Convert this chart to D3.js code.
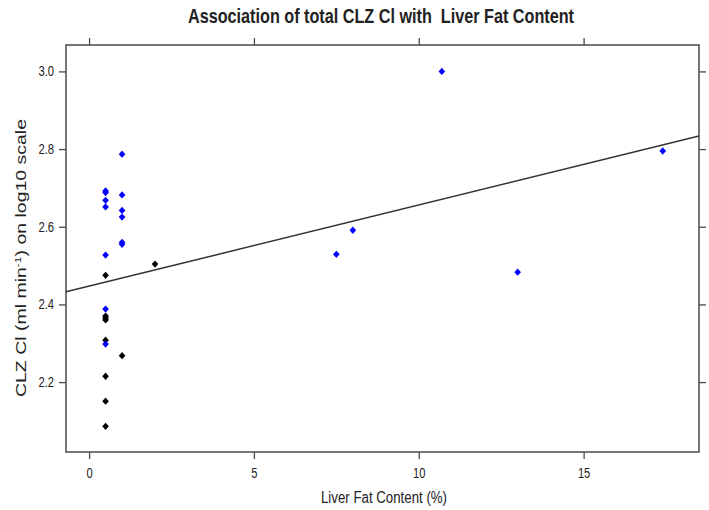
<!DOCTYPE html>
<html>
<head>
<meta charset="utf-8">
<script src="https://cdn.jsdelivr.net/npm/d3@7"></script>
<style>
  html, body { margin: 0; padding: 0; background: #fff; }
  svg { display: block; }
  text { font-family: "Liberation Sans", Arial, sans-serif; fill: #222; white-space: pre; }
</style>
</head>
<body>
<svg id="chart" width="709" height="510"></svg>
<script>
// ---- data ----
const blueX = [0.5, 0.5, 0.5, 0.5, 0.5, 0.5, 0.5, 1, 1, 1, 1, 1, 1, 7.5, 8, 10.7, 13, 17.4];
const blueY = [2.692, 2.688, 2.668, 2.651, 2.527, 2.388, 2.298, 2.787, 2.682, 2.642, 2.625, 2.560, 2.555, 2.529, 2.591, 3.0, 2.483, 2.795];
const blackX = [0.5, 0.5, 0.5, 0.5, 0.5, 0.5, 0.5, 0.5, 1, 2];
const blackY = [2.475, 2.370, 2.365, 2.360, 2.308, 2.215, 2.151, 2.086, 2.268, 2.504];
const xTicks = [0, 5, 10, 15];
const yTicks = [2.2, 2.4, 2.6, 2.8, 3.0];
const fitIntercept = 2.447;
const fitSlope = 0.0209;
const xDomain = [-0.7, 18.5];
const yDomain = [2.02, 3.068];
const titleText = "Association of total CLZ Cl with  Liver Fat Content";
const xLabel = "Liver Fat Content (%)";

(function () {
  const svg = d3.select("#chart");
  const L = 66, R = 699, T = 45, B = 452;
  const x = d3.scaleLinear().domain(xDomain).range([L, R]);
  const y = d3.scaleLinear().domain(yDomain).range([B, T]);
  const axisColor = "#4a4a4a";

  // horizontally condense a text element (the reference's text is narrow)
  function condense(sel, factor) {
    sel.each(function () {
      const w = this.getComputedTextLength();
      d3.select(this).attr("textLength", w * factor).attr("lengthAdjust", "spacingAndGlyphs");
    });
  }

  svg.append("rect").attr("x", L).attr("y", T).attr("width", R - L).attr("height", B - T)
    .attr("fill", "none").attr("stroke", axisColor).attr("stroke-width", 1.5);

  const tickLen = 7;
  const gBottom = svg.append("g").attr("transform", `translate(0,${B})`)
    .call(d3.axisBottom(x).tickValues(xTicks).tickSize(tickLen).tickPadding(9).tickFormat(d3.format("d")));
  const gTop = svg.append("g").attr("transform", `translate(0,${T})`)
    .call(d3.axisTop(x).tickValues(xTicks).tickSize(tickLen).tickFormat(""));
  const gLeft = svg.append("g").attr("transform", `translate(${L},0)`)
    .call(d3.axisLeft(y).tickValues(yTicks).tickSize(tickLen).tickPadding(5).tickFormat(d3.format(".1f")));
  const gRight = svg.append("g").attr("transform", `translate(${R},0)`)
    .call(d3.axisRight(y).tickValues(yTicks).tickSize(tickLen).tickFormat(""));
  [gBottom, gTop, gLeft, gRight].forEach(g => {
    g.select(".domain").remove();
    g.selectAll(".tick line").attr("stroke", axisColor).attr("stroke-width", 1.3);
    g.selectAll(".tick text").attr("font-family", "'Liberation Sans', Arial, sans-serif")
      .attr("font-size", 14).attr("fill", "#222");
  });
  condense(gBottom.selectAll(".tick text"), 0.8);
  condense(gLeft.selectAll(".tick text"), 0.8);

  svg.append("line")
    .attr("x1", x(xDomain[0])).attr("y1", y(fitIntercept + fitSlope * xDomain[0]))
    .attr("x2", x(xDomain[1])).attr("y2", y(fitIntercept + fitSlope * xDomain[1]))
    .attr("stroke", "#333").attr("stroke-width", 1.5);

  const diamond = {
    draw(ctx, size) {
      const w = Math.sqrt(size) / 2, h = w * 1.1;
      ctx.moveTo(0, -h); ctx.lineTo(w, 0); ctx.lineTo(0, h); ctx.lineTo(-w, 0); ctx.closePath();
    }
  };
  const sym = d3.symbol().type(diamond).size(44);

  function drawPoints(xs, ys, color) {
    svg.append("g").selectAll("path").data(xs.map((d, i) => [d, ys[i]])).join("path")
      .attr("d", sym)
      .attr("transform", d => `translate(${x(d[0])},${y(d[1])})`)
      .attr("fill", color);
  }
  drawPoints(blackX, blackY, "#000");
  drawPoints(blueX, blueY, "#0000ff");

  svg.append("text").attr("x", 381).attr("y", 23).attr("text-anchor", "middle")
    .attr("font-weight", "bold").attr("font-size", 21)
    .attr("textLength", 386).attr("lengthAdjust", "spacingAndGlyphs")
    .text(titleText);

  svg.append("text").attr("x", 384).attr("y", 503).attr("text-anchor", "middle")
    .attr("font-size", 16)
    .attr("textLength", 126).attr("lengthAdjust", "spacingAndGlyphs")
    .text(xLabel);

  const yl = svg.append("text")
    .attr("transform", "translate(26,258) rotate(-90) scale(1,0.78)")
    .attr("text-anchor", "middle")
    .attr("font-size", 19.5);
  yl.append("tspan").text("CLZ Cl (ml min");
  yl.append("tspan").attr("font-size", 12).attr("dy", -7).text("-1");
  yl.append("tspan").attr("dy", 7).text(") on log10 scale");
})();
</script>
</body>
</html>
